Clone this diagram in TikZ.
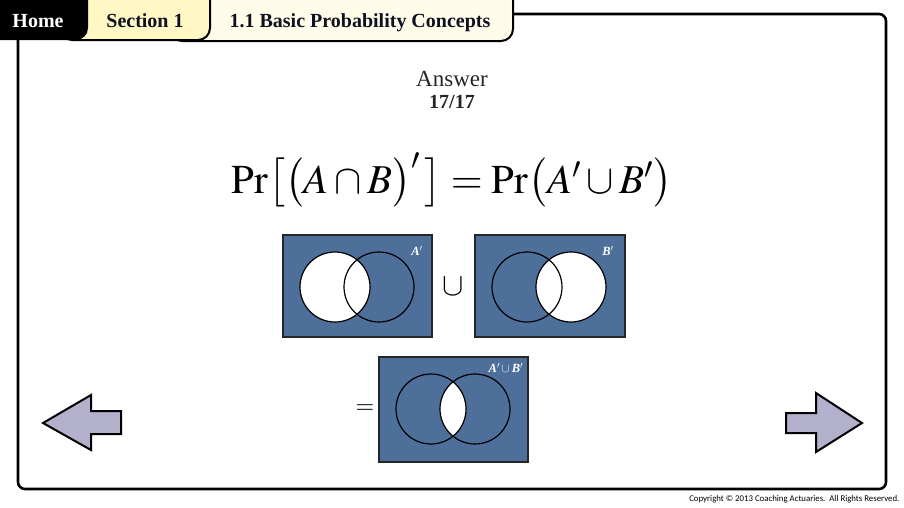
\documentclass[tikz,border=0pt]{standalone}
\usepackage{mathptmx}
\usepackage{fontspec}
\setmainfont{Liberation Serif}
\newfontfamily\copyfont{Carlito}
\definecolor{venn}{HTML}{4D6F99}
\definecolor{tabtwo}{HTML}{FFF7C4}
\definecolor{tabthree}{HTML}{FFFDE9}
\definecolor{arrowfill}{HTML}{B2B0CB}
\definecolor{tabtext}{HTML}{0F1020}
\newcommand{\bi}[1]{{\bfseries\itshape #1}}
\tikzset{
  tabshape/.style={draw=black, line width=2pt, rounded corners=12pt},
  vennbox/.style={draw=black!85, line width=1.6pt, fill=venn},
  venncirc/.style={draw=black, line width=1.2pt},
  navarrow/.style={draw=black, line width=2pt, fill=arrowfill, line join=miter},
  tablabel/.style={font=\bfseries\fontsize{20}{24}\selectfont, text=tabtext, anchor=base},
  vennlabel/.style={text=white, font=\fontsize{12.5}{14}\selectfont}
}
\begin{document}
\begin{tikzpicture}[x=1pt,y=-1pt]
\useasboundingbox (0,0) rectangle (904,507);
% frame
\draw[line width=2.6pt, rounded corners=7pt] (18,20) -- (18,489) -- (886,489) -- (886,14) -- (480,14);
% tabs
\draw[tabshape, fill=tabthree] (170,-15) -- (170,41) -- (513,41) -- (513,-15);
\draw[tabshape, fill=tabtwo] (60,-15) -- (60,40) -- (210,40) -- (210,-15);
\fill[black, rounded corners=12pt] (-15,-15) -- (-15,40) -- (88,40) -- (88,-15);
\node[tablabel, text=white] (home) at (38,27) {Home};
\node[tablabel] (sec) at (145,27) {Section 1};
\node[tablabel] (topic) at (360,27) {1.1 Basic Probability Concepts};
% heading
\node[anchor=base, font=\fontsize{23}{26}\selectfont, text=black!85, inner sep=0pt] (ans) at (452,86) {Answer};
\node[anchor=base, font=\bfseries\fontsize{20}{22}\selectfont, text=black!85, inner sep=0pt] (num) at (452,108) {17/17};
% formula
\node[anchor=base, font=\fontsize{41}{48}\selectfont, inner sep=0pt] (formula) at (452,193)
  {$\mathrm{Pr}\big[\big(A\cap B\big)'\,\big]=\mathrm{Pr}\big(A'\cup B'\big)$};
% box 1 : A'
\draw[vennbox] (283,235) rectangle (432,337);
\fill[white] (335,287) circle (35);
\draw[venncirc] (335,287) circle (35);
\draw[venncirc] (379,287) circle (35);
\node[vennlabel] (la) at (417,251) {\bi{A}$'$};
% union
\node[font=\fontsize{32}{34}\selectfont] (cup) at (453,287) {$\cup$};
% box 2 : B'
\draw[vennbox] (475,235) rectangle (625,337);
\fill[white] (571,287) circle (35);
\draw[venncirc] (527,287) circle (35);
\draw[venncirc] (571,287) circle (35);
\node[vennlabel] (lb) at (608,251) {\bi{B}$'$};
% equals
\node[font=\fontsize{24}{26}\selectfont] (eq) at (365,409) {$=$};
% box 3
\draw[vennbox] (379,357) rectangle (528,462);
\begin{scope}
  \clip (431,409) circle (35);
  \fill[white] (475,409) circle (35);
\end{scope}
\draw[venncirc] (431,409) circle (35);
\draw[venncirc] (475,409) circle (35);
\node[vennlabel] (lab) at (506,368) {\bi{A}$'\,\cup$\,\bi{B}$'$};
% arrows
\draw[navarrow] (43,423) -- (91,395) -- (91,411) -- (121,411) -- (121,434) -- (91,434) -- (91,450) -- cycle;
\draw[navarrow] (862,423) -- (816,393) -- (816,413) -- (786,413) -- (786,433) -- (816,433) -- (816,452) -- cycle;
% copyright
\node[anchor=east, font=\copyfont\fontsize{8.8}{10}\selectfont] (copy) at (903,499) {Copyright © 2013 Coaching Actuaries.\ \ All Rights Reserved.};
\end{tikzpicture}
\end{document}
